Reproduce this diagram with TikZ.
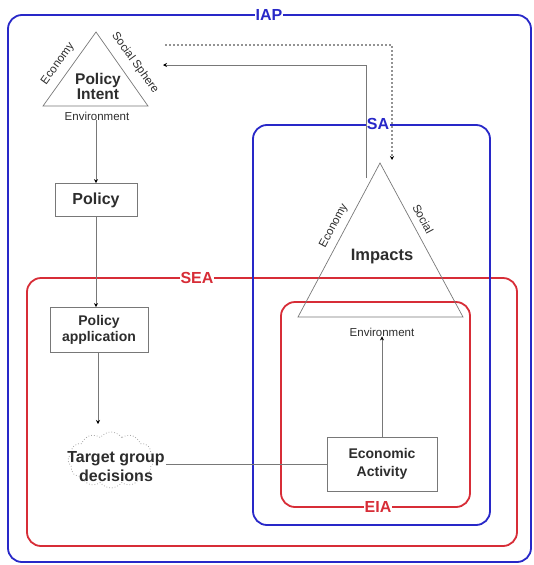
\documentclass[tikz,border=0pt]{standalone}
\usepackage{fontspec}
\setmainfont{Liberation Sans}
\usetikzlibrary{arrows.meta,shapes.symbols}
\definecolor{frameblue}{RGB}{40,40,200}
\definecolor{framered}{RGB}{215,45,55}
\definecolor{linegray}{RGB}{120,120,120}
\definecolor{txtgray}{RGB}{45,45,45}
\begin{document}
\begin{tikzpicture}[x=1pt,y=-1pt,
  frame/.style={line width=1.8pt,rounded corners=14pt},
  framelabel/.style={fill=white,inner sep=1pt,font=\bfseries\fontsize{16}{16}\selectfont},
  boxnode/.style={draw=linegray,line width=0.8pt,fill=white,text=txtgray,align=center,inner sep=2pt},
  tri/.style={draw=linegray,line width=0.7pt},
  conn/.style={draw=linegray,line width=1pt},
  arr/.style={conn,-{Stealth[length=4pt,width=4pt,black]}},
  small/.style={text=txtgray,font=\fontsize{11.5}{12}\selectfont,inner sep=0pt},
]
\useasboundingbox (0,0) rectangle (533,565);
% frames
\draw[frame,draw=frameblue] (8,15) rectangle (531,562);
\node[framelabel,text=frameblue] (iap) at (269,15) {IAP};
\draw[frame,draw=framered] (27,278) rectangle (517,546);
\node[framelabel,text=framered] (sea) at (197,278) {SEA};
\draw[frame,draw=frameblue] (253,125) rectangle (490,525);
\node[framelabel,text=frameblue] (sa) at (378,124) {SA};
\draw[frame,draw=framered] (281,302) rectangle (470,507);
\node[framelabel,text=framered] (eia) at (378,507) {EIA};
% Policy intent triangle
\coordinate (pa) at (96,32);
\coordinate (pl) at (43,106);
\coordinate (pr) at (148,106);
\draw[tri] (pa) -- (pl) -- (pr) -- cycle;
\node[text=txtgray,font=\bfseries\fontsize{15.5}{15}\selectfont,align=center,inner sep=0pt] (pint) at (98,86) {Policy\\Intent};
\node[small] (penv) at (97,116) {Environment};
\node[small,rotate=54] (pecon) at (58,64) {Economy};
\node[small,rotate=-54] (psoc) at (135,63) {Social Sphere};
% Impacts triangle
\coordinate (ia) at (380,163);
\coordinate (il) at (298,317);
\coordinate (ir) at (463,317);
\draw[tri] (ia) -- (il) -- (ir) -- cycle;
\node[text=txtgray,font=\bfseries\fontsize{16.5}{16}\selectfont,inner sep=0pt] (imp) at (382,257) {Impacts};
\node[small] (ienv) at (382,332) {Environment};
\node[small,rotate=62] (iecon) at (334,226) {Economy};
\node[small,rotate=-62] (isoc) at (423,219) {Social};
% boxes
\node[boxnode,minimum width=82pt,minimum height=33pt,font=\bfseries\fontsize{16}{16}\selectfont] (policy) at (96,200) {Policy};
\node[boxnode,minimum width=98pt,minimum height=45pt,font=\bfseries\fontsize{14}{16}\selectfont] (papp) at (99,330) {Policy\\application};
\node[cloud,cloud puffs=12,cloud puff arc=110,aspect=1.6,draw=linegray!65,dotted,line width=0.8pt,minimum width=86pt,minimum height=56pt] (cloudshape) at (111,460) {};
\node[text=txtgray,font=\bfseries\fontsize{16}{19}\selectfont,align=center,inner sep=1pt] (tgd) at (116,467) {Target group\\decisions};
\node[boxnode,minimum width=110pt,minimum height=54pt,font=\bfseries\fontsize{14}{18}\selectfont] (eco) at (382,464) {Economic\\Activity};
% connectors
\coordinate (tgdin) at (98,424);
\draw[arr] (penv.south -| policy.north) -- (policy.north);
\draw[arr] (policy.south) -- (papp.north -| policy.south);
\draw[arr] (papp.south -| tgdin) -- (tgdin);
\draw[conn,line width=0.7pt] (tgd.east |- eco.west) -- (eco.west);
\draw[arr] (eco.north) -- (ienv.south);
\coordinate (fbstart) at (366,178);
\coordinate (fbcorner) at (366,65);
\coordinate (fbend) at (163,65);
\draw[arr,line width=0.7pt] (fbstart) -- (fbcorner) -- (fbend);
\coordinate (dstart) at (165,45);
\coordinate (dcorner) at (392,45);
\coordinate (dend) at (392,160);
\draw[arr,dash pattern=on 2pt off 2pt,line width=1.2pt,draw=linegray!80] (dstart) -- (dcorner) -- (dend);
\end{tikzpicture}
\end{document}
